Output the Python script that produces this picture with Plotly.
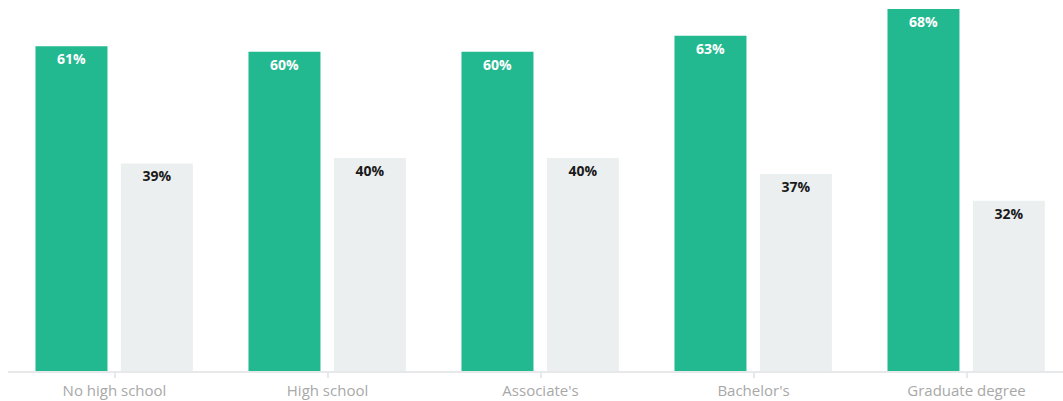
import plotly.graph_objects as go

categories = ["No high school", "High school", "Associate's", "Bachelor's", "Graduate degree"]
series_a = [61, 60, 60, 63, 68]
series_b = [39, 40, 40, 37, 32]

GREEN = "#22b890"
GRAY = "#eceff0"

fig = go.Figure()
fig.add_trace(go.Bar(
    x=categories, y=series_a, width=0.338, offset=-0.371,
    marker=dict(color=GREEN, line=dict(width=0)),
    text=[f"{v}%" for v in series_a], textposition="inside", insidetextanchor="end",
    textfont=dict(family="Open Sans", size=14, color="white", weight=700),
    constraintext="none", hoverinfo="skip",
))
fig.add_trace(go.Bar(
    x=categories, y=series_b, width=0.338, offset=0.03,
    marker=dict(color=GRAY, line=dict(width=0)),
    text=[f"{v}%" for v in series_b], textposition="inside", insidetextanchor="end",
    textfont=dict(family="Open Sans", size=14, color="#1a1a1a", weight=700),
    constraintext="none", hoverinfo="skip",
))

fig.update_layout(
    width=1063, height=401,
    margin=dict(l=8, r=0, t=0, b=30, autoexpand=False),
    paper_bgcolor="white", plot_bgcolor="white",
    showlegend=False, barmode="overlay",
    uniformtext=dict(mode=False),
    xaxis=dict(
        type="category", range=[-0.5, 4.453], automargin=False,
        showline=True, linecolor="#e6e8ea", linewidth=2,
        ticks="outside", ticklen=5, tickcolor="#e6e8ea", tickwidth=2,
        ticklabelstandoff=0,
        tickfont=dict(family="Open Sans", size=15, color="#a8a8a8"),
        showgrid=False, zeroline=False,
    ),
    yaxis=dict(range=[0, 69.7], visible=False, showgrid=False, zeroline=False),
)

fig.write_html("out.html")
